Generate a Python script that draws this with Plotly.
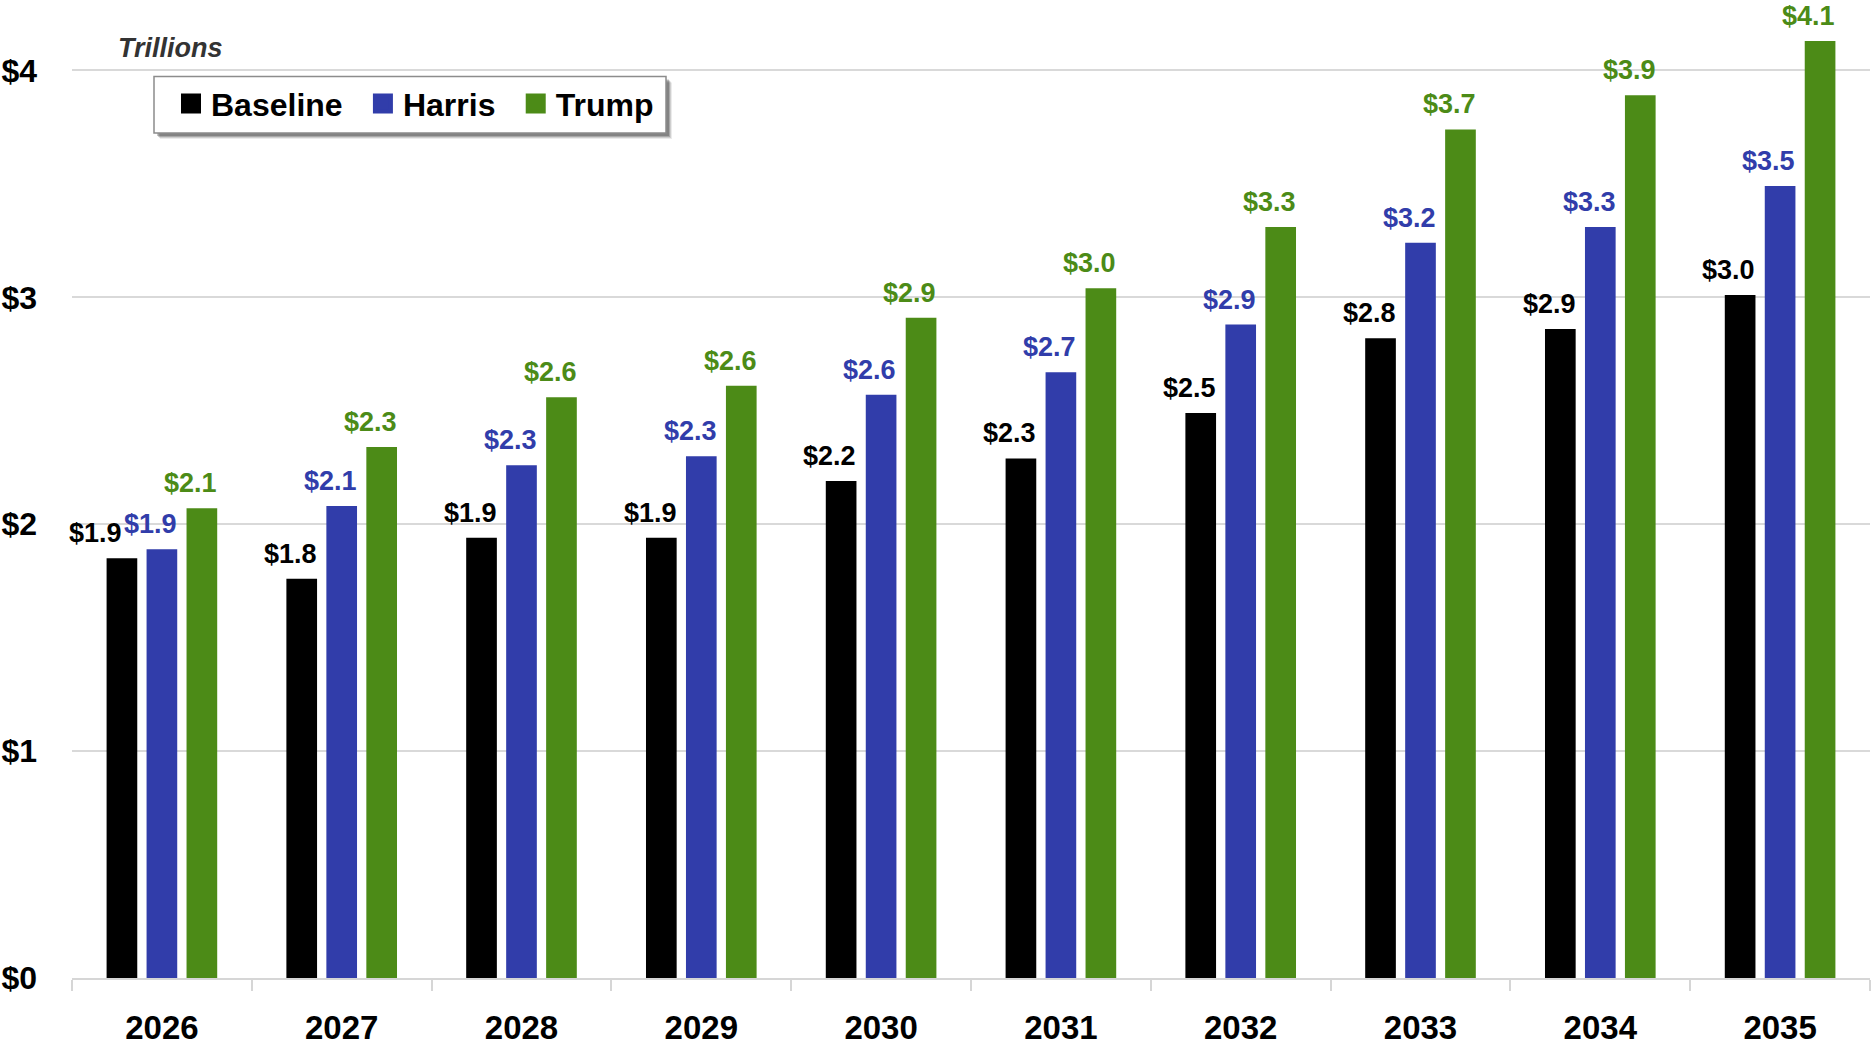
import plotly.graph_objects as go

years = ["2026", "2027", "2028", "2029", "2030", "2031", "2032", "2033", "2034", "2035"]
baseline = [1.85, 1.76, 1.94, 1.94, 2.19, 2.29, 2.49, 2.82, 2.86, 3.01]
harris = [1.89, 2.08, 2.26, 2.30, 2.57, 2.67, 2.88, 3.24, 3.31, 3.49]
trump = [2.07, 2.34, 2.56, 2.61, 2.91, 3.04, 3.31, 3.74, 3.89, 4.13]
y_ticks = [0, 1, 2, 3, 4]
y_tick_labels = ["$0", "$1", "$2", "$3", "$4"]

series = [("Baseline", baseline, "#000000"),
          ("Harris", harris, "#313DAA"),
          ("Trump", trump, "#4C8B17")]

FONT = "Liberation Sans, Arial, sans-serif"

# figure geometry (page pixels)
W, H = 1874, 1046
ML, MR, MT, MB = 72, 4, 4, 68
PW, PH = W - ML - MR, H - MT - MB
BARGAP, BARGROUPGAP = 0.333, 0.233
cat_w = PW / len(years)
slot = cat_w * (1 - BARGAP) / 3
bar_w = slot * (1 - BARGROUPGAP)


def px(x):
    return (x - ML) / PW


def py(y):
    return (H - MB - y) / PH


fig = go.Figure()
for name, vals, col in series:
    fig.add_trace(go.Bar(
        x=years, y=vals, name=name, marker=dict(color=col, line=dict(width=0)),
        showlegend=False, hoverinfo="x+y",
    ))

# legend entries (square swatches)
for name, vals, col in series:
    fig.add_trace(go.Scatter(
        x=[years[0]], y=[None], mode="markers", name=name + "\u00a0\u2009",
        marker=dict(symbol="square", size=16, color=col, line=dict(color=col, width=4)),
        showlegend=True, hoverinfo="skip",
    ))

# data labels: right-aligned to each bar's right edge
label_nudge = {(0, 0): -15}
annotations = []
for i, (name, vals, col) in enumerate(series):
    for j, v in enumerate(vals):
        xs = (i - 1) * slot + bar_w / 2 + 2 + label_nudge.get((i, j), 0)
        annotations.append(dict(
            x=j, y=v, xref="x", yref="y", text=f"<b>${v:.1f}</b>",
            showarrow=False, xanchor="right", yanchor="bottom",
            xshift=xs, yshift=8,
            font=dict(family=FONT, size=27, color=col),
        ))

annotations.append(dict(
    text="<b><i>Trillions</i></b>", xref="paper", yref="paper",
    x=px(116), y=py(48), xanchor="left", yanchor="middle",
    showarrow=False, font=dict(family=FONT, size=27, color="#333333"),
))

# legend box with soft drop shadow
bx0, bx1, by0, by1 = 154, 666, 76.5, 133
shapes = []
for off, a in [(6, 0.08), (5, 0.12), (4, 0.18), (3, 0.22)]:
    shapes.append(dict(
        type="rect", xref="paper", yref="paper", layer="above",
        x0=px(bx0 + off), x1=px(bx1 + off), y0=py(by1 + off), y1=py(by0 + off),
        fillcolor=f"rgba(0,0,0,{a})", line=dict(width=0),
    ))
shapes.append(dict(
    type="rect", xref="paper", yref="paper", layer="above",
    x0=px(bx0), x1=px(bx1), y0=py(by1), y1=py(by0),
    fillcolor="white", line=dict(color="#8c8c8c", width=1.5),
))

fig.update_layout(
    width=W, height=H,
    margin=dict(l=ML, r=MR, t=MT, b=MB),
    paper_bgcolor="white", plot_bgcolor="white",
    barmode="group", bargap=BARGAP, bargroupgap=BARGROUPGAP,
    font=dict(family=FONT, color="black"),
    showlegend=True,
    legend=dict(
        orientation="h", x=px(bx0 + 17), y=py((by0 + by1) / 2 - 1),
        xanchor="left", yanchor="middle",
        bgcolor="rgba(0,0,0,0)", borderwidth=0,
        font=dict(family=FONT, size=32, color="black", weight="bold"),
        itemclick=False, itemdoubleclick=False,
    ),
    xaxis=dict(
        type="category", categoryorder="array", categoryarray=years,
        range=[-0.5, len(years) - 0.5], automargin=False, tickangle=0,
        showgrid=False, showline=True, linecolor="#d6d6d6", linewidth=2,
        ticks="outside", tickson="boundaries", ticklen=11, tickcolor="#d6d6d6", tickwidth=2,
        tickfont=dict(family=FONT, size=33, color="black", weight="bold"),
        ticklabelstandoff=19,
    ),
    yaxis=dict(
        range=[0, PH / 226.9], tickvals=y_ticks, ticktext=y_tick_labels,
        automargin=False,
        showgrid=True, gridcolor="#d9d9d9", gridwidth=1.5, zeroline=False,
        showline=False, ticks="",
        tickfont=dict(family=FONT, size=32, color="black", weight="bold"),
        ticklabelstandoff=34,
    ),
    annotations=annotations,
    shapes=shapes,
)

fig.write_html(
    "out.html",
    config={"displayModeBar": False},
    post_script="document.body.style.margin='0';document.body.style.overflow='hidden';",
)
